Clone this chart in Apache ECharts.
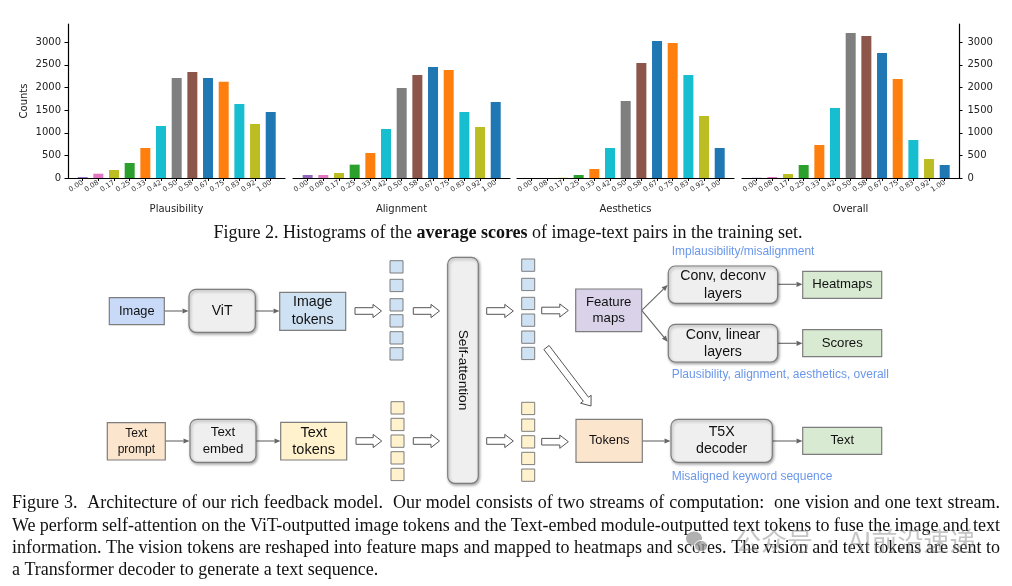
<!DOCTYPE html>
<html>
<head>
<meta charset="utf-8">
<script src="https://cdn.jsdelivr.net/npm/echarts@6/dist/echarts.min.js"></script>
<style>
html,body{margin:0;padding:0;background:#fff;}
#main{width:1012px;height:586px;}
</style>
</head>
<body>
<div id="main"></div>
<script>
// ---------- DATA ----------
const categories = ['0.00','0.08','0.17','0.25','0.33','0.42','0.50','0.58','0.67','0.75','0.83','0.92','1.00'];
const plausibility = [20, 95, 177, 332, 663, 1150, 2211, 2343, 2211, 2130, 1636, 1194, 1459];
const alignment    = [66, 66, 111, 295, 553, 1083, 1990, 2277, 2454, 2388, 1459, 1128, 1680];
const aesthetics   = [0, 0, 5, 66, 199, 663, 1702, 2543, 3029, 2985, 2277, 1371, 663];
const overall      = [5, 22, 88, 287, 730, 1548, 3206, 3140, 2764, 2189, 840, 420, 287];
const yTicks = [0, 500, 1000, 1500, 2000, 2500, 3000];
const panelNames = ['Plausibility', 'Alignment', 'Aesthetics', 'Overall'];
const barColors = ['#9467bd','#e377c2','#bcbd22','#2ca02c','#ff7f0e','#17becf','#7f7f7f','#8c564b','#1f77b4','#ff7f0e','#17becf','#bcbd22','#1f77b4'];

const fig2Caption = ['Figure 2. Histograms of the ', 'average scores', ' of image-text pairs in the training set.'];
const fig3Caption = [
  'Figure 3.  Architecture of our rich feedback model.  Our model consists of two streams of computation:  one vision and one text stream.',
  'We perform self-attention on the ViT-outputted image tokens and the Text-embed module-outputted text tokens to fuse the image and text',
  'information. The vision tokens are reshaped into feature maps and mapped to heatmaps and scores. The vision and text tokens are sent to',
  'a Transformer decoder to generate a text sequence.'
];

// ---------- HISTOGRAMS ----------
const panels = [plausibility, alignment, aesthetics, overall];
const positions = categories.map((c, i) => i / 12);
const gridLefts = [68, 293, 517, 742];
const grids = [], xAxes = [], yAxes = [], series = [];
panels.forEach((vals, p) => {
  grids.push({left: gridLefts[p], width: 217, top: 24, height: 154, containLabel: false});
  xAxes.push({
    type: 'value', gridIndex: p, min: -0.078, max: 1.076,
    axisLine: {show: true, onZero: false, lineStyle: {color: '#000', width: 1.2}},
    axisTick: {show: true, customValues: positions, length: 3, lineStyle: {color: '#000', width: 1}},
    axisLabel: {customValues: positions, formatter: v => categories[Math.round(v * 12)], rotate: 33,
      fontSize: 7, color: '#333', margin: 4, fontFamily: 'DejaVu Sans'},
    splitLine: {show: false},
    name: panelNames[p], nameLocation: 'middle', nameGap: 26,
    nameTextStyle: {fontSize: 10, color: '#222', fontFamily: 'DejaVu Sans'}
  });
  const showY = (p === 0 || p === 3);
  yAxes.push({
    type: 'value', gridIndex: p, min: 0, max: 3404, show: showY,
    position: p === 3 ? 'right' : 'left',
    axisLine: {show: true, onZero: false, lineStyle: {color: '#000', width: 1.2}},
    axisTick: {show: true, customValues: yTicks, length: 3.5, lineStyle: {color: '#000'}},
    axisLabel: {customValues: yTicks, formatter: v => String(v), fontSize: 10, color: '#222',
      margin: p === 3 ? 8.5 : 7, fontFamily: 'DejaVu Sans'},
    splitLine: {show: false},
    name: p === 0 ? 'Counts' : '', nameLocation: 'middle', nameGap: 39,
    nameTextStyle: {fontSize: 10, color: '#222', fontFamily: 'DejaVu Sans'}
  });
  series.push({
    type: 'bar', xAxisIndex: p, yAxisIndex: p, barWidth: 10,
    data: vals.map((v, i) => ({value: [positions[i], v], itemStyle: {color: barColors[i]}})),
    silent: true
  });
});

// ---------- DIAGRAM (graphic elements) ----------
const G = [];
const SANS = '"Liberation Sans", Arial, sans-serif';
function box(x1, y1, x2, y2, fill, label, fs, rounded, lh) {
  G.push({type: 'rect', z: 10, shape: {x: x1, y: y1, width: x2 - x1, height: y2 - y1, r: rounded ? 7 : 0},
    style: {fill: fill, stroke: '#7d7d7d', lineWidth: 1.2,
      shadowBlur: rounded ? 3 : 0, shadowOffsetX: rounded ? 1 : 0, shadowOffsetY: rounded ? 1.5 : 0,
      shadowColor: 'rgba(0,0,0,0.35)'}});
  G.push({type: 'text', x: (x1 + x2) / 2, y: (y1 + y2) / 2, z: 20,
    style: {text: label, fill: '#111', font: fs + 'px ' + SANS, align: 'center', verticalAlign: 'middle',
      textAlign: 'center', textVerticalAlign: 'middle', lineHeight: lh || 17}});
}
function arrow(x1, y1, x2, y2) {
  const dx = x2 - x1, dy = y2 - y1, L = Math.hypot(dx, dy), ux = dx / L, uy = dy / L, nx = -uy, ny = ux;
  const hl = 6, hw = 2.6, bx = x2 - ux * hl, by = y2 - uy * hl;
  G.push({type: 'line', z: 9, shape: {x1: x1, y1: y1, x2: bx, y2: by}, style: {stroke: '#666', lineWidth: 1.1}});
  G.push({type: 'polygon', z: 9, shape: {points: [[x2, y2], [bx + nx * hw, by + ny * hw], [bx - nx * hw, by - ny * hw]]},
    style: {fill: '#666'}});
}
function hollow(x1, y1, x2, y2) {
  const dx = x2 - x1, dy = y2 - y1, L = Math.hypot(dx, dy), ux = dx / L, uy = dy / L, nx = -uy, ny = ux;
  const sw = 3.3, hw = 6.6, hl = 8.5, bx = x2 - ux * hl, by = y2 - uy * hl;
  G.push({type: 'polygon', z: 9, shape: {points: [
    [x1 + nx * sw, y1 + ny * sw], [bx + nx * sw, by + ny * sw], [bx + nx * hw, by + ny * hw], [x2, y2],
    [bx - nx * hw, by - ny * hw], [bx - nx * sw, by - ny * sw], [x1 - nx * sw, y1 - ny * sw]]},
    style: {fill: '#fff', stroke: '#555', lineWidth: 1}});
}
function tokens(x, ys, fill) {
  ys.forEach(y => G.push({type: 'rect', z: 10, shape: {x: x, y: y, width: 13, height: 12.3},
    style: {fill: fill, stroke: '#7d7d7d', lineWidth: 1}}));
}
function label(x, y, s) {
  G.push({type: 'text', x: x, y: y, z: 20, style: {text: s, fill: '#6a97ea',
    font: '12px ' + SANS, align: 'left', verticalAlign: 'middle', textAlign: 'left', textVerticalAlign: 'middle'}});
}
const imgFill = '#cfe2f3', txtFill = '#fff2cc';

// vision stream
box(109.3, 297.7, 164.3, 324.7, '#c9daf8', 'Image', 12.8, false);
arrow(164.3, 311, 188.5, 311);
box(189, 289.3, 255.3, 332.3, '#efefef', 'ViT', 14, true);
arrow(255.3, 311, 279.5, 311);
box(279.7, 292.3, 345.7, 330.3, imgFill, 'Image\ntokens', 14.2, false, 17.7);
hollow(355, 311, 381.5, 311);
tokens(390, [260.7, 279.3, 298.7, 314.7, 331.7, 347.7], imgFill);
hollow(413.3, 311, 439.5, 311);
// self-attention
G.push({type: 'rect', z: 10, shape: {x: 447.7, y: 257.3, width: 30.6, height: 226, r: 7},
  style: {fill: '#efefef', stroke: '#7d7d7d', lineWidth: 1.2, shadowBlur: 3, shadowOffsetX: 1, shadowOffsetY: 1.5, shadowColor: 'rgba(0,0,0,0.35)'}});
G.push({type: 'text', x: 463, y: 370, z: 20, rotation: -Math.PI / 2,
  style: {text: 'Self-attention', fill: '#111', font: '13.7px ' + SANS, align: 'center', verticalAlign: 'middle',
    textAlign: 'center', textVerticalAlign: 'middle'}});
hollow(486.7, 311, 513.3, 311);
tokens(521.7, [259, 278.3, 297.3, 314, 331, 347.3], imgFill);
hollow(541.7, 310.5, 568.3, 310.5);
box(575.7, 289, 641.7, 331.7, '#d9d2e9', 'Feature\nmaps', 13.2, false, 16.7);
arrow(641.7, 310.3, 667.7, 285);
arrow(641.7, 310.3, 667.7, 341.7);
box(668.3, 266, 777.7, 303.3, '#efefef', 'Conv, deconv\nlayers', 14.2, true, 18);
arrow(777.7, 284.3, 802.5, 284.3);
box(802.7, 271.3, 881.7, 298.3, '#d9ead3', 'Heatmaps', 13.2, false);
box(668.3, 324.3, 777.7, 362, '#efefef', 'Conv, linear\nlayers', 14.2, true, 17);
arrow(777.7, 343.3, 802.5, 343.3);
box(802.7, 329.7, 881.7, 356.7, '#d9ead3', 'Scores', 13.2, false);
label(671.7, 252, 'Implausibility/misalignment');
label(671.7, 375, 'Plausibility, alignment, aesthetics, overall');
hollow(546.5, 347.5, 591, 406);

// text stream
box(107.3, 422.7, 165.3, 460, '#fce5cd', 'Text\nprompt', 12, false, 15.7);
arrow(165.3, 441, 189.5, 441);
box(190, 419.3, 256, 462.3, '#efefef', 'Text\nembed', 13.3, true, 16.3);
arrow(256, 441, 280.5, 441);
box(280.7, 422.3, 346.7, 460, txtFill, 'Text\ntokens', 14.5, false, 16.8);
hollow(356, 441, 381.7, 441);
tokens(391, [401.7, 418.3, 435, 451.7, 468.3], txtFill);
hollow(413.3, 441, 439.5, 441);
hollow(486.7, 441, 513.3, 441);
tokens(521.7, [402.3, 419, 435.7, 452.3, 469], txtFill);
hollow(541.7, 441.7, 568.3, 441.7);
box(576, 419.3, 642.3, 462.3, '#fce5cd', 'Tokens', 12.8, false);
arrow(642.3, 441, 670.5, 441);
box(671, 419.3, 772.3, 462.3, '#efefef', 'T5X\ndecoder', 14.2, true, 17);
arrow(772.3, 441, 802.5, 441);
box(802.7, 427.3, 881.7, 454.3, '#d9ead3', 'Text', 12.8, false);
label(671.7, 477, 'Misaligned keyword sequence');

// ---------- CAPTIONS ----------
const SERIF = '"Liberation Serif", "Times New Roman", serif';
const CAP_FS = 18;
G.push({type: 'text', x: 508, y: 233, z: 20, style: {
  text: '{n|' + fig2Caption[0] + '}{b|' + fig2Caption[1] + '}{n|' + fig2Caption[2] + '}',
  align: 'center', verticalAlign: 'middle', textAlign: 'center', textVerticalAlign: 'middle',
  rich: {n: {font: CAP_FS + 'px ' + SERIF, fill: '#111'}, b: {font: 'bold ' + CAP_FS + 'px ' + SERIF, fill: '#111'}}}});

const cv = document.createElement('canvas').getContext('2d');
cv.font = CAP_FS + 'px ' + SERIF;
const lineYs = [503.5, 526, 548.5, 570.5];
fig3Caption.forEach((line, li) => {
  const y = lineYs[li];
  if (li === fig3Caption.length - 1) {
    G.push({type: 'text', x: 12, y: y, z: 20, style: {text: line, font: CAP_FS + 'px ' + SERIF, fill: '#111',
      align: 'left', verticalAlign: 'middle', textAlign: 'left', textVerticalAlign: 'middle'}});
    return;
  }
  const parts = line.split(' ');
  const words = parts.filter(w => w.length);
  const nSpaces = parts.length - 1;
  const sum = words.reduce((a, w) => a + cv.measureText(w).width, 0);
  const gap = (988 - sum) / nSpaces;
  let x = 12;
  parts.forEach((w, i) => {
    if (w.length) {
      G.push({type: 'text', x: x, y: y, z: 20, style: {text: w, font: CAP_FS + 'px ' + SERIF, fill: '#111',
        align: 'left', verticalAlign: 'middle', textAlign: 'left', textVerticalAlign: 'middle'}});
      x += cv.measureText(w).width;
    }
    if (i < parts.length - 1) x += gap;
  });
});

// watermark
G.push({type: 'ellipse', z: 30, shape: {cx: 694, cy: 538.5, rx: 8, ry: 7}, style: {fill: 'rgba(150,150,150,0.75)'}});
G.push({type: 'ellipse', z: 31, shape: {cx: 701, cy: 546, rx: 6.5, ry: 5.5}, style: {fill: 'rgba(150,150,150,0.75)', stroke: '#fff', lineWidth: 1}});
G.push({type: 'text', x: 735, y: 541.5, z: 30, style: {text: '公众号', font: '26px "Noto Sans CJK SC"', fill: 'rgba(140,140,140,0.5)',
  align: 'left', verticalAlign: 'middle', textAlign: 'left', textVerticalAlign: 'middle'}});
G.push({type: 'circle', z: 30, shape: {cx: 830, cy: 541.5, r: 1.8}, style: {fill: 'rgba(140,140,140,0.5)'}});
G.push({type: 'text', x: 848, y: 541.5, z: 30, style: {text: 'AI前沿速递', font: '26px "Noto Sans CJK SC"', fill: 'rgba(140,140,140,0.5)',
  align: 'left', verticalAlign: 'middle', textAlign: 'left', textVerticalAlign: 'middle'}});

// ---------- CHART ----------
const chart = echarts.init(document.getElementById('main'), null, {renderer: 'canvas'});
chart.setOption({
  backgroundColor: '#fff',
  animation: false,
  grid: grids,
  xAxis: xAxes,
  yAxis: yAxes,
  series: series,
  graphic: {elements: G}
});
</script>
</body>
</html>
